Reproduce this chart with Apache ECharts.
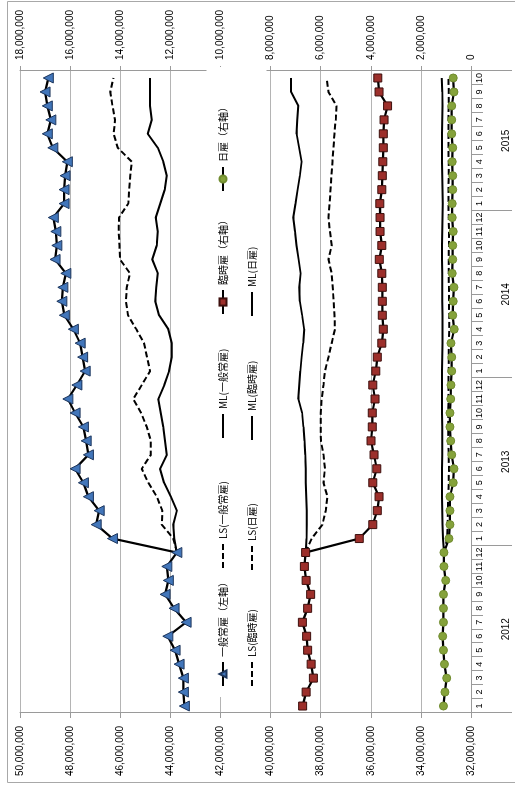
<!DOCTYPE html>
<html>
<head>
<meta charset="utf-8">
<script src="https://cdn.jsdelivr.net/npm/echarts@6/dist/echarts.min.js"></script>
<style>
  html, body { margin: 0; padding: 0; background: #fff; overflow: hidden; }
  #wrap { position: absolute; left: 0; top: 0; width: 515px; height: 787px; overflow: hidden; }
  /* landscape chart turned a quarter turn counter-clockwise */
  #chart { position: absolute; left: 0; top: 0; width: 787px; height: 515px;
           transform-origin: 0 0; transform: translate(0px, 787px) rotate(-90deg); }
</style>
</head>
<body>
<div id="wrap"><div id="chart"></div></div>
<script>
// Period: January 2012 to October 2015
const years = ['2012', '2013', '2014', '2015'];
const monthsPerYear = [12, 12, 12, 10];

// Values in millions of persons
const UNIT = 1000000;

// 一般常雇 (left axis)
const ippanJoyo = [
  43.44, 43.48, 43.48, 43.65, 43.81, 44.10, 43.37, 43.85, 44.21, 44.08, 44.14, 43.74,
  46.31, 46.96, 46.84, 47.27, 47.47, 47.80, 47.27, 47.36, 47.47, 47.80, 48.09, 47.73,
  47.40, 47.50, 47.60, 47.87, 48.23, 48.33, 48.29, 48.17, 48.60, 48.53, 48.57, 48.67,
  48.24, 48.24, 48.20, 48.11, 48.69, 48.91, 48.77, 48.91, 49.00, 48.87
];
const lsIppan = [
  null, null, null, null, null, null, null, null, null, null, null,
  43.74, 43.88, 44.34, 44.32, 44.54, 44.88, 45.14, 44.78, 44.78, 44.94, 45.17, 45.48, 45.14,
  44.81, 44.93, 45.05, 45.36, 45.69, 45.77, 45.74, 45.61, 46.01, 46.03, 46.06, 46.05,
  45.68, 45.64, 45.60, 45.54, 46.10, 46.26, 46.21, 46.31, 46.40, 46.27
];
const mlIppan = [
  null, null, null, null, null, null, null, null, null, null, null,
  43.74, 43.84, 43.88, 43.74, 43.98, 44.25, 44.41, 44.14, 44.21, 44.28, 44.38, 44.48, 44.24,
  44.05, 43.94, 43.94, 44.08, 44.45, 44.60, 44.56, 44.50, 44.72, 44.54, 44.50, 44.58,
  44.40, 44.22, 44.14, 44.28, 44.50, 44.90, 44.74, 44.81, 44.81, 44.81
];

// 臨時雇 (right axis)
const rinji = [
  6.72, 6.58, 6.29, 6.38, 6.52, 6.56, 6.73, 6.52, 6.40, 6.58, 6.65, 6.60,
  4.46, 3.92, 3.74, 3.67, 3.92, 3.76, 3.87, 3.99, 3.94, 3.94, 3.83, 3.92,
  3.80, 3.74, 3.56, 3.50, 3.54, 3.54, 3.54, 3.56, 3.66, 3.56, 3.63, 3.63,
  3.64, 3.56, 3.54, 3.52, 3.50, 3.50, 3.47, 3.33, 3.67, 3.72
];
const lsRinji = [
  null, null, null, null, null, null, null, null, null, null, null,
  6.60, 6.36, 5.93, 5.80, 5.73, 5.89, 5.83, 5.89, 5.99, 6.00, 6.00, 5.96, 5.89,
  5.83, 5.69, 5.56, 5.43, 5.45, 5.48, 5.52, 5.56, 5.69, 5.56, 5.63, 5.69,
  5.64, 5.61, 5.57, 5.53, 5.49, 5.45, 5.40, 5.37, 5.69, 5.76
];
const mlRinji = [
  null, null, null, null, null, null, null, null, null, null, null,
  6.60, 6.57, 6.56, 6.56, 6.58, 6.60, 6.60, 6.62, 6.65, 6.69, 6.74, 6.89, 6.85,
  6.81, 6.76, 6.70, 6.66, 6.74, 6.83, 6.85, 6.80, 6.88, 6.96, 7.02, 7.09,
  7.00, 6.92, 6.83, 6.76, 6.86, 6.96, 6.93, 6.89, 7.18, 7.18
];

// 日雇 (right axis)
const hiyatoi = [
  1.10, 1.04, 0.97, 1.06, 1.10, 1.13, 1.10, 1.10, 1.10, 1.01, 1.08, 1.08,
  0.88, 0.84, 0.84, 0.84, 0.71, 0.68, 0.77, 0.81, 0.84, 0.84, 0.81, 0.80,
  0.77, 0.77, 0.80, 0.67, 0.73, 0.71, 0.68, 0.75, 0.73, 0.73, 0.71, 0.75,
  0.75, 0.73, 0.73, 0.75, 0.73, 0.77, 0.77, 0.77, 0.68, 0.71
];
const lsHiyatoi = [
  null, null, null, null, null, null, null, null, null, null, null,
  1.08, 0.95, 0.93, 0.92, 0.91, 0.89, 0.88, 0.89, 0.90, 0.91, 0.91, 0.90, 0.90,
  0.89, 0.89, 0.88, 0.87, 0.87, 0.88, 0.88, 0.89, 0.89, 0.88, 0.88, 0.89,
  0.90, 0.90, 0.89, 0.89, 0.90, 0.90, 0.90, 0.89, 0.89, 0.90
];
const mlHiyatoi = [
  null, null, null, null, null, null, null, null, null, null, null,
  1.08, 1.12, 1.14, 1.15, 1.16, 1.16, 1.16, 1.15, 1.15, 1.15, 1.16, 1.16, 1.16,
  1.16, 1.15, 1.14, 1.14, 1.14, 1.15, 1.15, 1.15, 1.16, 1.16, 1.15, 1.14,
  1.13, 1.14, 1.15, 1.16, 1.16, 1.16, 1.15, 1.14, 1.15, 1.17
];

// Axis tick values
const leftAxisMin = 32000000, leftAxisMax = 50000000;
const rightAxisMin = 0, rightAxisMax = 18000000;
const axisStep = 2000000;

// category keys, month labels and year grouping
const categories = [], monthLabels = [], yearOf = [];
const yearStartIdx = [], yearMidIdx = [];
years.forEach(function (y, k) {
  yearStartIdx.push(categories.length);
  yearMidIdx.push(categories.length + monthsPerYear[k] / 2 - 1);
  for (let m = 1; m <= monthsPerYear[k]; m++) {
    categories.push(y + '-' + m);
    monthLabels.push(String(m));
    yearOf.push(y);
  }
});

function toPersons(arr) { return arr.map(function (v) { return v == null ? null : Math.round(v * UNIT); }); }
function withCommas(v) { return String(Math.round(v)).replace(/\B(?=(\d{3})+(?!\d))/g, ','); }

const AXIS_GRAY = '#9a9a9a';
const GRID_GRAY = '#b4b4b4';
const NUM_FONT = 'Liberation Sans';
const JP_FONT = 'Noto Sans CJK JP';

const chart = echarts.init(document.getElementById('chart'), null, { width: 787, height: 515, renderer: 'canvas' });

function markerSeries(name, data, axis, symbol, fill, border, size) {
  return {
    name: name, type: 'line', yAxisIndex: axis, data: toPersons(data),
    symbol: symbol, symbolSize: size, showSymbol: true, showAllSymbol: true,
    lineStyle: { color: '#000', width: 2.2 },
    itemStyle: { color: fill, borderColor: border, borderWidth: 1 },
    emphasis: { disabled: true }, animation: false, z: 5
  };
}
function plainSeries(name, data, axis, dashed) {
  return {
    name: name, type: 'line', yAxisIndex: axis, data: toPersons(data),
    symbol: 'none', showSymbol: false, connectNulls: false,
    lineStyle: { color: '#000', width: 2, type: dashed ? [6, 3] : 'solid' },
    itemStyle: { color: 'rgba(0,0,0,0)', borderWidth: 0 },
    emphasis: { disabled: true }, animation: false, z: 3
  };
}

// legend entries; line-only entries get no marker in their key
const legendItem = function (name, w, lineOnly) {
  const item = { name: name, textStyle: { width: w, overflow: 'none' } };
  if (lineOnly) item.itemStyle = { color: 'rgba(0,0,0,0)', borderWidth: 0, opacity: 0 };
  return item;
};

chart.setOption({
  backgroundColor: '#fff',
  animation: false,
  graphic: [{
    type: 'rect', silent: true, z: -1,
    shape: { x: 4.5, y: 7.5, width: 781, height: 530 },
    style: { fill: 'none', stroke: '#a8a8a8', lineWidth: 1 }
  }],
  grid: { left: 74, right: 71, top: 20, bottom: 44, containLabel: false },
  legend: {
    left: 90, top: 206.5, width: 610,
    padding: [6, 10, 4, 10],
    backgroundColor: '#fff',
    itemGap: 8, itemWidth: 24, itemHeight: 9,
    textStyle: { fontFamily: JP_FONT, fontSize: 10, color: '#000', lineHeight: 21 },
    data: [
      legendItem('一般常雇（左軸）', 78, false),
      legendItem('LS(一般常雇)', 92, true),
      legendItem('ML(一般常雇)', 86, true),
      legendItem('臨時雇（右軸）', 85, false),
      legendItem('日雇（右軸）', 85, false),
      legendItem('LS(臨時雇)', 78, true),
      legendItem('LS(日雇)', 92, true),
      legendItem('ML(臨時雇)', 86, true),
      legendItem('ML(日雇)', 85, true)
    ],
    selectedMode: false
  },
  xAxis: [{
    type: 'category', data: categories, position: 'bottom', boundaryGap: true,
    axisLine: { show: true, onZero: false, lineStyle: { color: AXIS_GRAY, width: 1 } },
    axisTick: { show: true, interval: 0, length: 12, lineStyle: { color: AXIS_GRAY } },
    axisLabel: {
      interval: 0, margin: 4, fontFamily: NUM_FONT, fontSize: 9, color: '#000',
      formatter: function (v, i) { return monthLabels[i]; }
    },
    splitLine: { show: false }
  }, {
    type: 'category', data: categories, position: 'bottom', boundaryGap: true,
    axisLine: { show: false, onZero: false },
    axisTick: {
      show: true, length: 41, lineStyle: { color: AXIS_GRAY },
      interval: function (i) { return yearStartIdx.indexOf(i) >= 0; }
    },
    axisLabel: {
      margin: 30, color: '#000',
      interval: function (i) { return yearMidIdx.indexOf(i) >= 0; },
      formatter: function (v, i) { return '{y|' + yearOf[i] + '}'; },
      rich: { y: { fontFamily: NUM_FONT, fontSize: 10, color: '#000', padding: [0, 0, 0, 14] } }
    },
    splitLine: { show: false }
  }],
  yAxis: [{
    type: 'value', position: 'left',
    min: leftAxisMin, max: leftAxisMax, interval: axisStep,
    axisLine: { show: true, lineStyle: { color: AXIS_GRAY } },
    axisTick: { show: true, length: 5, lineStyle: { color: AXIS_GRAY } },
    axisLabel: { margin: 13, fontFamily: NUM_FONT, fontSize: 10, color: '#000', formatter: withCommas },
    splitLine: { show: true, lineStyle: { color: GRID_GRAY, width: 1 } }
  }, {
    type: 'value', position: 'right',
    min: rightAxisMin, max: rightAxisMax, interval: axisStep,
    axisLine: { show: true, lineStyle: { color: AXIS_GRAY } },
    axisTick: { show: true, length: 5, lineStyle: { color: AXIS_GRAY } },
    axisLabel: { margin: 11, fontFamily: NUM_FONT, fontSize: 10, color: '#000', formatter: withCommas },
    splitLine: { show: false }
  }],
  series: [
    markerSeries('一般常雇（左軸）', ippanJoyo, 0, 'triangle', '#4276ba', '#1c355c', 10),
    plainSeries('LS(一般常雇)', lsIppan, 0, true),
    plainSeries('ML(一般常雇)', mlIppan, 0, false),
    markerSeries('臨時雇（右軸）', rinji, 1, 'rect', '#9c2f2b', '#3d0f0d', 8),
    markerSeries('日雇（右軸）', hiyatoi, 1, 'circle', '#85a23b', '#718c30', 8),
    plainSeries('LS(臨時雇)', lsRinji, 1, true),
    plainSeries('LS(日雇)', lsHiyatoi, 1, true),
    plainSeries('ML(臨時雇)', mlRinji, 1, false),
    plainSeries('ML(日雇)', mlHiyatoi, 1, false)
  ]
});
</script>
</body>
</html>
